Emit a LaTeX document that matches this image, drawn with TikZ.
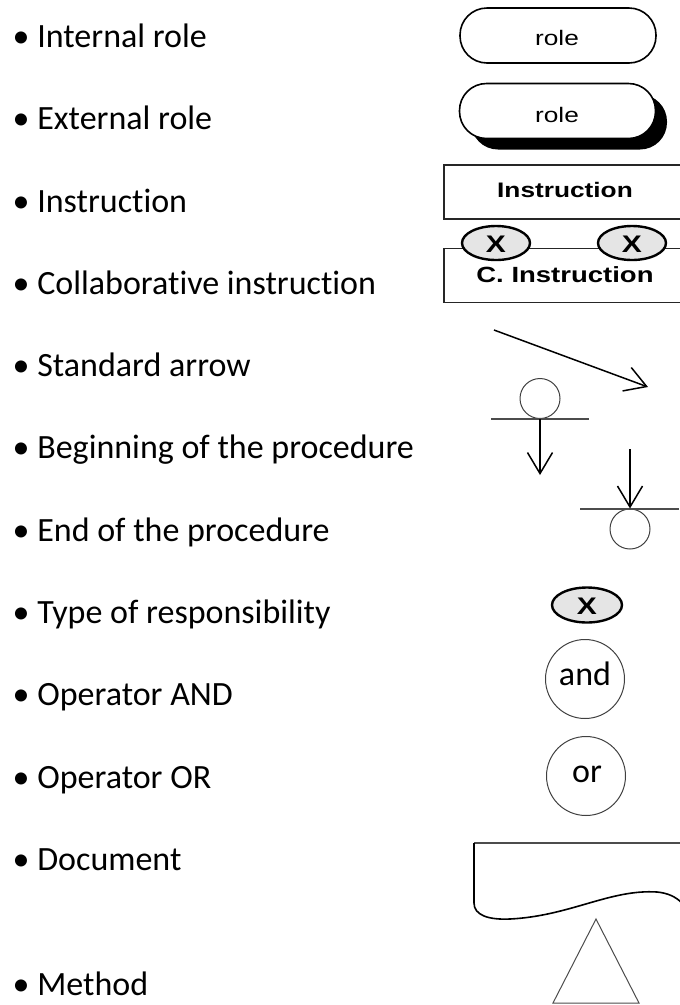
\documentclass[tikz,border=0pt]{standalone}
\usepackage{fontspec}
\setmainfont{Carlito}[RawFeature={-liga,-clig,-dlig}]
\newfontfamily\shapefont{Liberation Sans}
\usetikzlibrary{arrows.meta,shapes.geometric}

% labels inside the symbols are set a little wider than normal
\newcommand{\symtext}[3][\mdseries]{\scalebox{1.25}[1]{\shapefont#1\fontsize{#2}{#2}\selectfont #3}}

\begin{document}
\begin{tikzpicture}[x=1pt,y=-1pt,
  item/.style={anchor=base west,inner sep=0pt,font=\fontsize{34}{40}\selectfont},
  pill/.style={rounded corners=27pt,minimum width=196pt,minimum height=55pt,inner sep=0pt},
  box/.style={draw=black!85,line width=1.5pt,minimum width=246pt,minimum height=54pt,inner sep=0pt},
  resp/.style={ellipse,draw=black,line width=2.4pt,fill=black!10,minimum width=68pt,minimum height=34pt,inner sep=0pt},
  ring/.style={circle,draw=black!75,line width=1pt,inner sep=0pt},
  barb/.style={-{Straight Barb[length=21pt,width=25pt]},line width=1.5pt},
  bar/.style={draw=black!70,line width=1.2pt},
  lbl/.style={anchor=base,inner sep=0pt}
]
\useasboundingbox (0,0) rectangle (680,1005);

% ---- legend entries ----
\node[item] (t1)  at (12.5,47)  {• Internal role};
\node[item] (t2)  at (12.5,129) {• External role};
\node[item] (t3)  at (12.5,212) {• Instruction};
\node[item] (t4)  at (12.5,294) {• Collaborative instruction};
\node[item] (t5)  at (12.5,376) {• Standard arrow};
\node[item] (t6)  at (12.5,458) {• Beginning of the procedure};
\node[item] (t7)  at (12.5,541) {• End of the procedure};
\node[item] (t8)  at (12.5,623) {• Type of responsibility};
\node[item] (t9)  at (12.5,705) {• Operator AND};
\node[item] (t10) at (12.5,788) {• Operator OR};
\node[item] (t11) at (12.5,870) {• Document};
\node[item] (t12) at (12.5,995) {• Method};

% ---- internal role ----
\node[pill,draw=black,line width=1.6pt] (irole) at (558,35.5) {};
\node[lbl] (iroletxt) at (557,45) {\symtext{21}{role}};

% ---- external role with its shadow ----
\node[pill,fill=black] (eshadow) at (569,122) {};
\node[pill,draw=black,fill=white,line width=1.6pt] (erole) at (557.5,111) {};
\node[lbl] (eroletxt) at (557,122) {\symtext{21}{role}};

% ---- instruction ----
\node[box] (instr) at (567,192) {};
\node[lbl] (instrtxt) at (565,197) {\symtext[\bfseries]{21}{Instruction}};

% ---- collaborative instruction ----
\node[box] (cinstr) at (567,275.5) {};
\node[lbl] (cinstrtxt) at (565,282) {\symtext[\bfseries]{22}{C. Instruction}};
\node[resp] (cx1) at (496,243) {};
\node[lbl] (cx1txt) at (496,252) {\symtext[\bfseries]{24}{X}};
\node[resp] (cx2) at (632,243) {};
\node[lbl] (cx2txt) at (632,252) {\symtext[\bfseries]{24}{X}};

% ---- standard arrow ----
\coordinate (sa1) at (494,330);
\coordinate (sa2) at (648,387);
\draw[barb] (sa1) -- (sa2);

% ---- beginning of the procedure ----
\node[ring,minimum size=40pt] (bcirc) at (540,398.5) {};
\coordinate (bl) at (491,419);
\coordinate (br) at (589,419);
\coordinate (bend) at (540,475);
\draw[bar] (bl) -- (br);
\draw[barb] (bcirc.south) -- (bend);

% ---- end of the procedure ----
\node[ring,minimum size=40pt] (ecirc) at (630,529) {};
\coordinate (el) at (580,509);
\coordinate (er) at (679,509);
\coordinate (estart) at (630,449);
\draw[bar] (el) -- (er);
\draw[barb] (estart) -- (ecirc.north);

% ---- type of responsibility ----
\node[resp,minimum width=70pt,minimum height=35pt] (rtype) at (587,605) {};
\node[lbl] (rtypetxt) at (587,614) {\symtext[\bfseries]{24}{X}};

% ---- operators ----
\node[ring,minimum size=79pt] (opand) at (585,679) {};
\node[lbl,font=\fontsize{34}{40}\selectfont] (opandtxt) at (585,685) {and};
\node[ring,minimum size=79pt] (opor) at (586,776) {};
\node[lbl,font=\fontsize{34}{40}\selectfont] (oportxt) at (587,782) {or};

% ---- document ----
\draw[draw=black!70,line width=1.5pt] (680,843) -- (474,843);
\draw[line width=1.6pt] (474,843) -- (474,903)
  .. controls (474,915) and (488,920) .. (510,919)
  .. controls (570,916) and (610,889) .. (657,892)
  .. controls (668,893) and (676,897) .. (682,903);

% ---- method ----
\draw[draw=black!70,line width=1pt] (596,919) -- (553,1003) -- (639,1003) -- cycle;
\end{tikzpicture}
\end{document}
